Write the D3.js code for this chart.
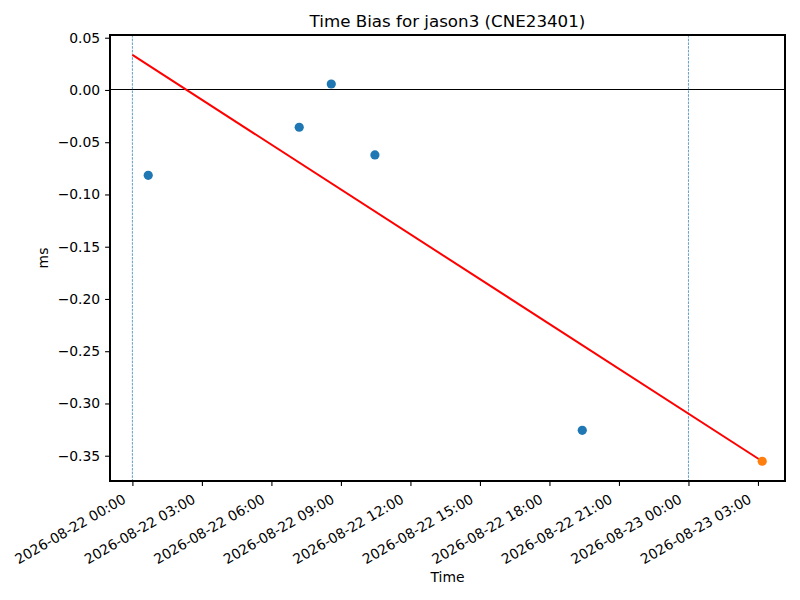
<!DOCTYPE html>
<html>
<head>
<meta charset="utf-8">
<script src="https://cdn.jsdelivr.net/npm/d3@7"></script>
<style>
	body { margin: 0; background: #fff; }
	svg, svg text { font-family: "DejaVu Sans", sans-serif; }
</style>
</head>
<body>
<svg width="800" height="600"></svg>
<script>
// observed bias samples (UTC)
var sampleTimes = ["2026-08-22T00:41", "2026-08-22T07:12", "2026-08-22T08:35", "2026-08-22T10:28", "2026-08-22T19:25"];
var sampleBias = [-0.0817, -0.0357, 0.0057, -0.0622, -0.3257];

// predicted point
var predTime = ["2026-08-23T03:11"];
var predBias = [-0.3553];

// fit line endpoints
var fitTimes = ["2026-08-22T00:00", "2026-08-23T03:11"];
var fitBias = [0.0335, -0.3553];

// day boundaries
var dayMarks = ["2026-08-22T00:00", "2026-08-23T00:00"];

var xDomain = ["2026-08-21T23:02", "2026-08-23T04:10"];
var yDomain = [-0.3742, 0.0526];
var yTicks = [0.05, 0.00, -0.05, -0.10, -0.15, -0.20, -0.25, -0.30, -0.35];

(function () {
	var parse = d3.utcParse("%Y-%m-%dT%H:%M");
	var svg = d3.select("svg");
	var margin = { top: 35, right: 15, bottom: 119, left: 110 },
		width = +svg.attr("width") - margin.left - margin.right,
		height = +svg.attr("height") - margin.top - margin.bottom,
		g = svg.append("g").attr("transform", "translate(" + margin.left + "," + margin.top + ")");

	var x = d3.scaleUtc()
		.domain(xDomain.map(parse))
		.range([0, width]);

	var y = d3.scaleLinear()
		.domain(yDomain)
		.range([height, 0]);

	var samples = sampleTimes.map(function (t, i) { return { t: parse(t), v: sampleBias[i] }; });
	var pred = predTime.map(function (t, i) { return { t: parse(t), v: predBias[i] }; });
	var fit = fitTimes.map(function (t, i) { return { t: parse(t), v: fitBias[i] }; });

	// axes
	var xAxis = g.append("g")
		.attr("transform", "translate(0," + height + ")")
		.call(d3.axisBottom(x)
			.ticks(d3.utcHour.every(3))
			.tickFormat(d3.utcFormat("%Y-%m-%d %H:%M"))
			.tickSizeOuter(0)
			.tickSize(4.9)
			.tickPadding(4.9));
	xAxis.selectAll("text")
		.attr("fill", "#000")
		.attr("text-anchor", "end")
		.attr("y", 0)
		.attr("dy", 0)
		.attr("transform", "translate(-6,21) rotate(-30)");

	var yAxis = g.append("g")
		.call(d3.axisLeft(y)
			.tickValues(yTicks)
			.tickFormat(d3.format(".2f"))
			.tickSizeOuter(0)
			.tickSize(4.9)
			.tickPadding(4.9));
	yAxis.selectAll("text")
		.attr("fill", "#000");

	svg.selectAll(".tick text")
		.style("font-family", "'DejaVu Sans'")
		.style("font-size", "13.9px");
	svg.selectAll(".domain").remove();
	svg.selectAll(".tick line").attr("stroke", "#000").attr("stroke-width", 1.1);

	// zero line
	g.append("line")
		.attr("x1", 0)
		.attr("x2", width)
		.attr("y1", y(0))
		.attr("y2", y(0))
		.attr("stroke", "#000")
		.attr("stroke-width", 1)
		.attr("shape-rendering", "crispEdges");

	// day boundaries
	g.selectAll(".day")
		.data(dayMarks.map(parse))
		.enter().append("line")
		.attr("class", "day")
		.attr("x1", function (d) { return x(d); })
		.attr("x2", function (d) { return x(d); })
		.attr("y1", 0)
		.attr("y2", height)
		.attr("stroke", "#1f77b4")
		.attr("stroke-width", 0.7)
		.attr("stroke-dasharray", "2.6,1.1");

	// fit line
	g.append("path")
		.datum(fit)
		.attr("fill", "none")
		.attr("stroke", "#ff0000")
		.attr("stroke-width", 2)
		.attr("d", d3.line()
			.x(function (d) { return x(d.t); })
			.y(function (d) { return y(d.v); }));

	g.selectAll(".pt")
		.data(samples)
		.enter().append("circle")
		.attr("class", "pt")
		.attr("cx", function (d) { return x(d.t); })
		.attr("cy", function (d) { return y(d.v); })
		.attr("r", 4.6)
		.attr("fill", "#1f77b4");

	g.selectAll(".pred")
		.data(pred)
		.enter().append("circle")
		.attr("class", "pred")
		.attr("cx", function (d) { return x(d.t); })
		.attr("cy", function (d) { return y(d.v); })
		.attr("r", 4.6)
		.attr("fill", "#ff7f0e");

	// frame
	g.append("rect")
		.attr("width", width)
		.attr("height", height)
		.attr("fill", "none")
		.attr("stroke", "#000")
		.attr("stroke-width", 1.1)
		.attr("shape-rendering", "crispEdges");

	// labels
	svg.append("text")
		.attr("x", margin.left + width / 2)
		.attr("y", 27)
		.attr("text-anchor", "middle")
		.style("font-size", "16.7px")
		.text("Time Bias for jason3 (CNE23401)");

	svg.append("text")
		.attr("x", margin.left + width / 2)
		.attr("y", 582)
		.attr("text-anchor", "middle")
		.style("font-size", "13.9px")
		.text("Time");

	svg.append("text")
		.attr("transform", "translate(48," + (margin.top + height / 2) + ") rotate(-90)")
		.attr("text-anchor", "middle")
		.style("font-size", "13.9px")
		.text("ms");
}) ();
</script>
</body>
</html>
